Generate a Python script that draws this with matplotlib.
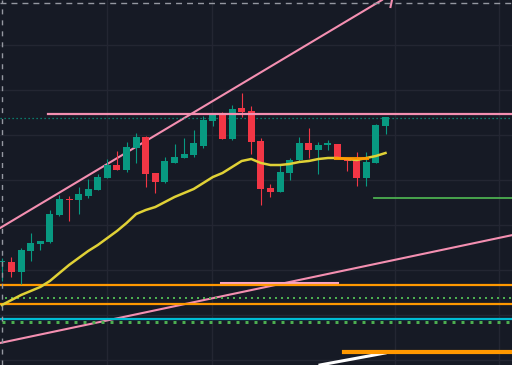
import matplotlib.pyplot as plt
import numpy as np

# daily candles (arbitrary price units)
opens  = [103, 103, 93, 114, 121, 123, 150, 166, 165, 169, 175, 187, 200, 195, 217, 228, 192, 183, 202, 207,
          210, 219, 244, 252, 226, 257, 254, 224, 177, 173, 192, 205, 222, 215, 220.5, 221, 207, 205, 187, 202, 239]
highs  = [107, 108, 117, 132, 124, 155, 170, 169, 178, 186, 191, 206, 214, 223, 232, 229, 192, 208, 221, 227,
          235, 249, 252, 253, 260, 272, 259, 227, 181, 200, 207, 228, 237, 223, 225, 221, 207, 213, 213, 241, 248]
lows   = [84, 88, 81, 104, 115, 122, 149, 144, 151, 167, 175, 187, 195, 193, 202, 178, 172, 182, 202, 207,
          208, 217, 239, 226, 225, 248, 211, 160, 168, 173, 185, 204, 207, 191, 215, 207, 194, 179, 179, 202, 231]
closes = [103.5, 93, 115, 122, 124, 151, 166, 165, 171, 176, 188, 200, 195, 218, 228, 191, 183, 204, 208, 211,
          222, 245, 251, 226, 256, 253, 223, 176, 173, 193, 205, 222, 215, 220, 221, 207, 204, 187, 203, 240, 248]
# moving average
ma = [60, 65, 70, 74, 78, 84, 92, 100, 107, 114, 120, 127, 134, 142, 151, 155, 158, 163, 168, 172,
      176, 182, 188, 192, 198, 204, 206, 202, 200, 200, 201, 203, 204, 206, 207, 207, 206, 205, 207, 209, 212]

# drawn levels
resistance = 251
last_close_line = 247.5
green_level = 167
orange_levels = [80, 61]
green_dotted = [67, 43]
cyan_level = 46.5

bg = '#161a25'
up = '#089981'
down = '#f23645'
pink = '#f48fb1'

fig = plt.figure(figsize=(5.12, 3.65), dpi=100, facecolor=bg)
ax = fig.add_axes([0, 0, 1, 1])
ax.set_facecolor(bg)
ax.set_xlim(-0.198, 53.19)
ax.set_ylim(0, 365)
ax.axis('off')

# grid
for p in [320, 275, 230, 185, 140, 95, 50, 5]:
    ax.axhline(p, color='#232632', lw=1, zorder=0)
for b in [10.96, 21.91, 41.0, 51.8]:
    ax.axvline(b, color='#232632', lw=1, zorder=0)

# candles
x = np.arange(len(opens))
o = np.array(opens); c = np.array(closes)
cols = [up if cc >= oo else down for oo, cc in zip(o, c)]
ax.vlines(x, lows, highs, colors=cols, lw=0.8, zorder=3)
bottoms = np.minimum(o, c)
heights = np.maximum(np.abs(c - o), 1.2)
ax.bar(x, heights, bottom=bottoms, width=0.73, color=cols, zorder=3)

# moving average
ax.plot(x, ma, color='#e0d136', lw=1.8, zorder=4)

# trend lines
ax.axline((0, 138.1), (40, 367.1), color=pink, lw=1.5, zorder=2)
ax.axline((0, 22.4), (40, 103.2), color=pink, lw=1.5, zorder=2)
ax.plot([40.52, 40.72], [358, 367], color=pink, lw=1.5)
ax.plot([33.17, 39.95], [0, 12], color='white', lw=2.2, zorder=2)

# horizontal levels
ax.plot([4.8, 53.2], [resistance] * 2, color=pink, lw=1.6, zorder=5)
ax.axhline(last_close_line, color=up, lw=0.9, ls=(0, (1, 2.2)), zorder=2)
ax.plot([38.8, 53.2], [green_level] * 2, color='#4caf50', lw=1.3, zorder=2)
ax.plot([34.7, 38.1], [207, 207], color='#ff9800', lw=2.2, alpha=0.9, zorder=5)
ax.plot([22.85, 34.9], [82, 82], color='#f8a5c2', lw=2.2, zorder=2)
for lvl in orange_levels:
    ax.axhline(lvl, color='#ff9800', lw=1.6, zorder=2)
ax.plot([0.3, 53.2], [green_dotted[0]] * 2, color='#4caf50', lw=1.44, ls=(0, (1, 2)), zorder=2)
ax.axhline(cyan_level, color='#00bcd4', lw=1.6, zorder=2)
ax.plot([0.0, 53.2], [green_dotted[1]] * 2, color='#4caf50', lw=2.16, ls=(0, (1, 2)), zorder=2)
ax.plot([35.7, 53.2], [13, 13], color='#ff9800', lw=3, zorder=2)

# dashed crosshair border
ax.axhline(362, color='#9598a1', lw=1, ls=(0, (4.3, 3.6)), zorder=6)
ax.axvline(0.06, color='#9598a1', lw=1, ls=(0, (3.6, 4.3)), zorder=6)

fig.savefig('out.png', dpi=100, facecolor=bg)
